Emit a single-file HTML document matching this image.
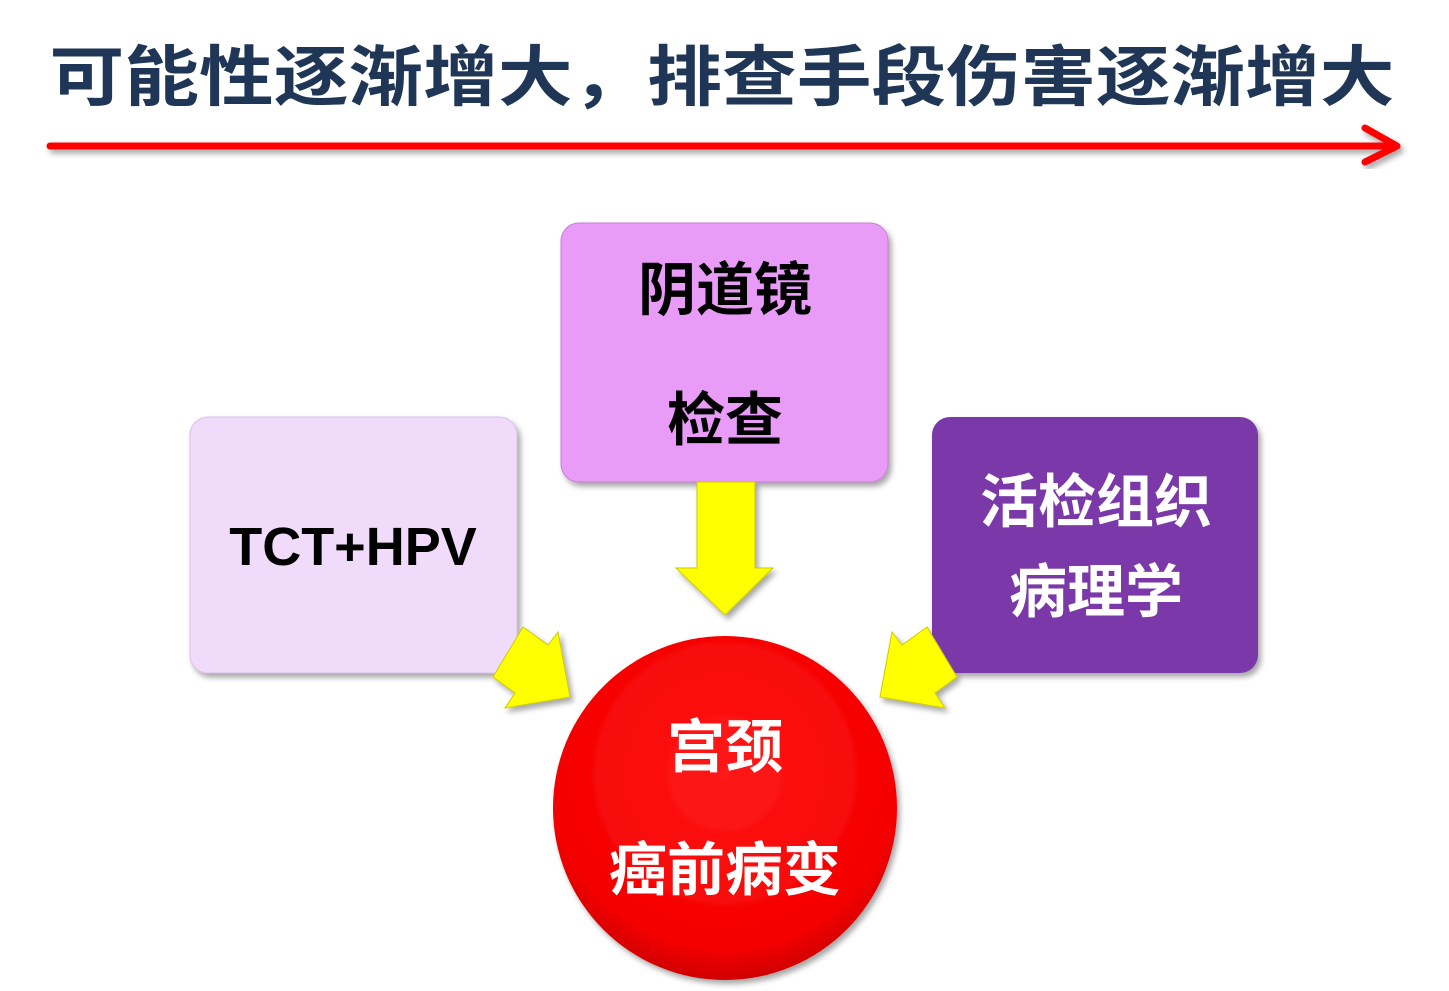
<!DOCTYPE html>
<html><head><meta charset="utf-8"><style>
html,body{margin:0;padding:0;background:#fff;}
svg{display:block;}
text{font-family:"Liberation Sans","Noto Sans CJK SC",sans-serif;font-weight:bold;}
</style></head><body>
<svg width="1449" height="991" viewBox="0 0 1449 991" xmlns="http://www.w3.org/2000/svg">
<defs>
<filter id="sh" x="-10%" y="-10%" width="130%" height="130%"><feDropShadow dx="3" dy="4" stdDeviation="3" flood-color="#000" flood-opacity="0.35"/></filter>
<radialGradient id="rg" cx="50%" cy="40%" r="60%"><stop offset="0" stop-color="#ff1a1a"/><stop offset="0.85" stop-color="#f40000"/><stop offset="1" stop-color="#d00000"/></radialGradient>
</defs>
<text x="722" y="100" font-size="66" fill="#1f3656" text-anchor="middle" textLength="1345" lengthAdjust="spacingAndGlyphs">可能性逐渐增大，排查手段伤害逐渐增大</text>
<g filter="url(#sh)" stroke="#f00" stroke-linecap="round" stroke-width="7" fill="none">
<line x1="50" y1="146" x2="1395" y2="146"/>
<polyline points="1365,128 1397,146 1365,162" stroke-linejoin="round"/>
</g>
<g filter="url(#sh)">
<rect x="190" y="417" width="327" height="256" rx="18" fill="#f0dcfa" stroke="#d8c0e6" stroke-width="1"/>
<rect x="561" y="223" width="327" height="259" rx="18" fill="#e89cf7" stroke="#c97fd8" stroke-width="1"/>
<rect x="932" y="417" width="326" height="256" rx="18" fill="#7a37a8"/>
<polygon points="697,482 755,482 755,568 773,568 725,615 676,568 697,568" fill="#ffff00" stroke="#cccc00" stroke-width="1"/>
<polygon points="523,627 548,645 558,632 570,697 505,708 515,693 493,677" fill="#ffff00" stroke="#cccc00" stroke-width="1"/>
<polygon points="927,627 902,645 892,632 880,697 945,708 935,693 957,677" fill="#ffff00" stroke="#cccc00" stroke-width="1"/>
<circle cx="725" cy="808" r="172" fill="url(#rg)"/>
</g>
<text x="725" y="310" font-size="58" fill="#000" text-anchor="middle">阴道镜</text>
<text x="725" y="440" font-size="58" fill="#000" text-anchor="middle">检查</text>
<text x="353" y="565" font-size="54" fill="#000" text-anchor="middle">TCT+HPV</text>
<text x="1096" y="522" font-size="58" fill="#fff" text-anchor="middle">活检组织</text>
<text x="1096" y="612" font-size="58" fill="#fff" text-anchor="middle">病理学</text>
<text x="725" y="767" font-size="58" fill="#fff" text-anchor="middle">宫颈</text>
<text x="725" y="890" font-size="58" fill="#fff" text-anchor="middle">癌前病变</text>
</svg>
</body></html>
